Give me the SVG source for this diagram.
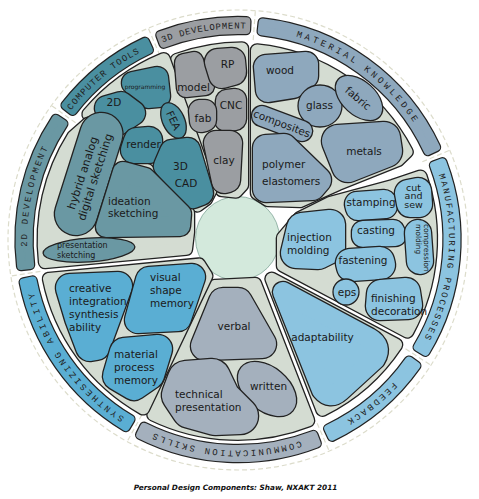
<svg xmlns="http://www.w3.org/2000/svg" xmlns:xlink="http://www.w3.org/1999/xlink" width="479" height="499" viewBox="0 0 479 499">
<style>
.o{fill:#222;stroke:#222;stroke-linejoin:round;stroke-linecap:round}
.c0{fill:#d4dcd2;stroke:#d4dcd2;stroke-linejoin:round;stroke-linecap:round}
.f3{fill:#9b9ea2;stroke:#9b9ea2;stroke-linejoin:round;stroke-linecap:round}
.fm{fill:#8ea8bd;stroke:#8ea8bd;stroke-linejoin:round;stroke-linecap:round}
.fp{fill:#8cc4e0;stroke:#8cc4e0;stroke-linejoin:round;stroke-linecap:round}
.fc{fill:#a4b0bd;stroke:#a4b0bd;stroke-linejoin:round;stroke-linecap:round}
.fs{fill:#5aaed3;stroke:#5aaed3;stroke-linejoin:round;stroke-linecap:round}
.f2{fill:#6a98a3;stroke:#6a98a3;stroke-linejoin:round;stroke-linecap:round}
.ft{fill:#4a8fa0;stroke:#4a8fa0;stroke-linejoin:round;stroke-linecap:round}
.e{stroke:#222;stroke-width:1.3}
.t{font-family:"DejaVu Sans",Verdana,sans-serif;font-size:10.5px;fill:#1a1a1a}
.s6{font-size:6px}
.s75{font-size:7.5px}
.s8{font-size:8px}
.s9{font-size:9.5px}
.s11{font-size:11px}
.m{text-anchor:middle}
.bt{font-family:"Liberation Mono","Courier New",monospace;font-size:9px;fill:#222;text-anchor:middle}
.dash{fill:none;stroke:#dcdccb;stroke-width:1.2;stroke-dasharray:5 3}
</style>
<defs>
<path id="tp" d="M238,28.5 A211,211 0 1 1 238,450.5 A211,211 0 1 1 238,28.5 A211,211 0 1 1 238,450.5 A211,211 0 1 1 238,28.5"/>
<path id="b3d" d="M160.4,35.2 A218.5,218.5 0 0 1 246.4,21.2 L246,30.1 A209.5,209.5 0 0 0 163.6,43.7 Z"/>
<path id="bmat" d="M262.7,22.4 A218.5,218.5 0 0 1 436,147.2 L427.9,151 A209.5,209.5 0 0 0 261.7,31.3 Z"/>
<path id="bman" d="M442.4,162.3 A218.5,218.5 0 0 1 425.5,351.7 L417.7,347.1 A209.5,209.5 0 0 0 434,165.4 Z"/>
<path id="bfb" d="M416.3,365.8 A218.5,218.5 0 0 1 332.1,436.7 L328.2,428.6 A209.5,209.5 0 0 0 409,360.6 Z"/>
<path id="bcom" d="M316.7,443.4 A218.5,218.5 0 0 1 140.2,434.9 L144.2,426.8 A209.5,209.5 0 0 0 313.4,435 Z"/>
<path id="bsyn" d="M125.8,427 A218.5,218.5 0 0 1 23.7,282.3 L32.6,280.5 A209.5,209.5 0 0 0 130.4,419.3 Z"/>
<path id="b2d" d="M21.1,266.1 A218.5,218.5 0 0 1 55.8,118.9 L63.3,123.9 A209.5,209.5 0 0 0 30.1,265 Z"/>
<path id="bct" d="M65.6,105.3 A218.5,218.5 0 0 1 145,41.8 L148.8,49.9 A209.5,209.5 0 0 0 72.7,110.8 Z"/>
<path id="k3d" d="M177,60 A190.5,190.5 0 0 1 242,48.5 L242,185 L236,191.5 L222,190 Z"/>
<path id="kmat" d="M257,50.5 A190,190 0 0 1 406.5,151.8 L398,160 L338,184 L300,201 L268,200 L257,193 Z"/>
<path id="kman" d="M283,238 L300,218 L330,203 L393,186 L420.5,176.7 A193,193 0 0 1 407.3,331.4 L283,265.5 Z"/>
<path id="kfb" d="M271.6,278.8 L396.1,344.7 A190,190 0 0 1 322.4,409.7 Z"/>
<path id="kcom" d="M215,286 L255,284 L308,420.5 A194,194 0 0 1 153.4,414.5 Z"/>
<path id="ksyn" d="M49,278.9 L199,264.6 L206.2,276 L143.1,408.3 A193,193 0 0 1 49,278.9 Z"/>
<path id="k2d" d="M45,262 A194,194 0 0 1 73.5,136.7 L88,124 L104,119 L119,128 L121,150 L124,164 L147,170 L179,202 L188,213 L188,232 L186,248.8 Z"/>
<path id="kct" d="M88.6,114.2 A195,195 0 0 1 163.7,59.2 L210.6,190 L206,199 L197.3,205.4 L188,194 L152.5,159 L127,152.4 L124,134 L110,118 Z"/>
<path id="p-rp" d="M218,62 L232,61 L233,72 L222,75 Z"/>
<path id="p-model" d="M184,63 L194,61 L200,79 L205,86 L186,88 Z"/>
<path id="p-cnc" d="M227,101 L235,100 L235,119 L226,120 Z"/>
<path id="p-fab" d="M200,111 L205,111 L205,120 L201,121 Z"/>
<path id="p-clay" d="M216,143 L230,143 L228,180 L224,181 Z"/>
<path id="p-wood" d="M266,67 L306,64 L306,76 L293,86 L268,90 Z"/>
<path id="p-compo" d="M262,116 L302,131"/>
<path id="p-metals" d="M338,141 L384,138 L386,151 L348,166 Z"/>
<path id="p-poly" d="M266,148 L284,147 L318,180 L312,187 L266,189 Z"/>
<path id="p-stamp" d="M357,204 L384,202 L385,206 L358,208 Z"/>
<path id="p-cut" d="M408,193 L418,191 L419,204 L410,204 Z"/>
<path id="p-cast" d="M363,232 L393,231 L395,235 L363,236 Z"/>
<path id="p-cmp" d="M418,233 L420,261"/>
<path id="p-inj" d="M302,228 L330,225 L330,248 L318,254 L296,253 Z"/>
<path id="p-fast" d="M350,263 L380,261 L381,265 L351,267 Z"/>
<path id="p-fin" d="M381,294 L406,292 L408,305 L380,306 Z"/>
<path id="p-adapt" d="M283,292 L369,338 Q383,346 375,359 L340,391 Q330,400 322,390 Z"/>
<path id="p-verbal" d="M223,302 L238,302 L262,344 L205,346 Z"/>
<path id="p-tech" d="M186,379 L212,377 L222,398 L240,416 L215,417 L190,410 L180,395 Z"/>
<path id="p-creat" d="M70,288 L118,286 L96,346 L90,347 L79,318 Z"/>
<path id="p-visual" d="M149,280 L192,277 L178,318 L138,320 Z"/>
<path id="p-matmem" d="M124,352 L158,349 L150,375 L134,386 L117,376 Z"/>
<path id="p-hybrid" d="M76,214 L101.4,134"/>
<path id="p-idea" d="M123,172 L145,178 L181,214 L180,226 L106,227 Z"/>
<path id="p-prog" d="M133,83 L157,78 L159,96 L148,97 Z"/>
<path id="p-2d" d="M107,108 L121,104 L133,113 L118,123 Z"/>
<path id="p-render" d="M137,141 L149,140 L149,150 L134,150 Z"/>
<path id="p-cad" d="M172,152 L188,150 L201,193 L193,196 L166,166 Z"/>
</defs>

<g id="backdrop">
<circle class="dash" cx="238" cy="240" r="230"/>
<circle cx="237.5" cy="238.5" r="42" fill="#d3e9dc" stroke="#7fa597" stroke-width="0.8"/>
</g>

<g id="connectors">
<line class="dash" x1="159.9" y1="55.4" x2="148.1" y2="27.8"/>
<line class="dash" x1="253.2" y1="40.1" x2="255.4" y2="10.2"/>
<line class="dash" x1="422.3" y1="161.8" x2="449.9" y2="150.2"/>
<line class="dash" x1="405.5" y1="348.7" x2="430.7" y2="365.1"/>
<line class="dash" x1="317.1" y1="423.2" x2="329" y2="450.7"/>
<line class="dash" x1="141.8" y1="414.9" x2="127.4" y2="441.2"/>
<line class="dash" x1="40.5" y1="271.3" x2="10.9" y2="276.1"/>
<line class="dash" x1="75.6" y1="122.8" x2="51.2" y2="105.3"/>
</g>

<g id="bands">
<g id="band-3d"><use href="#b3d" class="o" stroke-width="10.4"/><use href="#b3d" class="f3" stroke-width="8"/><text class="bt" letter-spacing="0.7"><textPath href="#tp" startOffset="1290.8">3D DEVELOPMENT</textPath></text></g>
<g id="band-material"><use href="#bmat" class="o" stroke-width="10.4"/><use href="#bmat" class="fm" stroke-width="8"/><text class="bt" letter-spacing="3"><textPath href="#tp" startOffset="134.4">MATERIAL KNOWLEDGE</textPath></text></g>
<g id="band-manufacturing"><use href="#bman" class="o" stroke-width="10.4"/><use href="#bman" class="fp" stroke-width="8"/><text class="bt" letter-spacing="2"><textPath href="#tp" startOffset="350.6">MANUFACTURING PROCESSES</textPath></text></g>
<g id="band-feedback"><use href="#bfb" class="o" stroke-width="10.4"/><use href="#bfb" class="fp" stroke-width="8"/><text class="bt" letter-spacing="2.4"><textPath href="#tp" startOffset="519.2">FEEDBACK</textPath></text></g>
<g id="band-communication"><use href="#bcom" class="o" stroke-width="10.4"/><use href="#bcom" class="fc" stroke-width="8"/><text class="bt" letter-spacing="2.2"><textPath href="#tp" startOffset="675">COMMUNICATION SKILLS</textPath></text></g>
<g id="band-synthesizing"><use href="#bsyn" class="o" stroke-width="10.4"/><use href="#bsyn" class="fs" stroke-width="8"/><text class="bt" letter-spacing="2.6"><textPath href="#tp" startOffset="862.5">SYNTHESIZING ABILITY</textPath></text></g>
<g id="band-2d"><use href="#b2d" class="o" stroke-width="10.4"/><use href="#b2d" class="f2" stroke-width="8"/><text class="bt" letter-spacing="2"><textPath href="#tp" startOffset="1038.5">2D DEVELOPMENT</textPath></text></g>
<g id="band-computer"><use href="#bct" class="o" stroke-width="10.4"/><use href="#bct" class="ft" stroke-width="8"/><text class="bt" letter-spacing="1.1"><textPath href="#tp" startOffset="1178.4">COMPUTER TOOLS</textPath></text></g>
</g>

<g id="containers">
<g id="sector-3d"><use href="#k3d" class="o" stroke-width="14.6"/><use href="#k3d" class="c0" stroke-width="12"/></g>
<g id="sector-material"><use href="#kmat" class="o" stroke-width="14.6"/><use href="#kmat" class="c0" stroke-width="12"/></g>
<g id="sector-manufacturing"><use href="#kman" class="o" stroke-width="14.6"/><use href="#kman" class="c0" stroke-width="12"/></g>
<g id="sector-feedback"><use href="#kfb" class="o" stroke-width="14.6"/><use href="#kfb" class="c0" stroke-width="12"/></g>
<g id="sector-communication"><use href="#kcom" class="o" stroke-width="14.6"/><use href="#kcom" class="c0" stroke-width="12"/></g>
<g id="sector-synthesizing"><use href="#ksyn" class="o" stroke-width="14.6"/><use href="#ksyn" class="c0" stroke-width="12"/></g>
<g id="sector-computer"><use href="#kct" class="o" stroke-width="14.6"/><use href="#kct" class="c0" stroke-width="12"/></g>
<g id="sector-2d"><use href="#k2d" class="o" stroke-width="14.6"/><use href="#k2d" class="c0" stroke-width="12"/></g>
</g>

<g id="nodes-3d">
<g id="model"><use href="#p-model" class="o" stroke-width="20.6"/><use href="#p-model" class="f3" stroke-width="18"/><text class="t m" x="193.5" y="91">model</text></g>
<g id="rp"><use href="#p-rp" class="o" stroke-width="28.6"/><use href="#p-rp" class="f3" stroke-width="26"/><text class="t m" x="227.5" y="68">RP</text></g>
<g id="cnc"><use href="#p-cnc" class="o" stroke-width="24.6"/><use href="#p-cnc" class="f3" stroke-width="22"/><text class="t m" x="231" y="109">CNC</text></g>
<g id="fab"><use href="#p-fab" class="o" stroke-width="24.6"/><use href="#p-fab" class="f3" stroke-width="22"/><text class="t m" x="203" y="122">fab</text></g>
<g id="clay"><use href="#p-clay" class="o" stroke-width="26.6"/><use href="#p-clay" class="f3" stroke-width="24"/><text class="t m" x="224" y="163.5">clay</text></g>
</g>

<g id="nodes-material">
<g id="wood"><use href="#p-wood" class="o" stroke-width="26.6"/><use href="#p-wood" class="fm" stroke-width="24"/><text class="t m" x="280" y="73.5">wood</text></g>
<g id="glass"><ellipse class="fm e" cx="320" cy="106" rx="22" ry="21"/><text class="t m" x="319.5" y="109">glass</text></g>
<g id="fabric"><ellipse class="fm e" cx="359" cy="98" rx="28" ry="17" transform="rotate(42 359 98)"/><text class="t m" transform="translate(358 98.5) rotate(40)" x="0" y="3.5">fabric</text></g>
<g id="composites"><use href="#p-compo" class="o" stroke-width="22.6"/><use href="#p-compo" class="fm" stroke-width="20"/><text class="t m" transform="translate(282 123.5) rotate(20.6)" x="0" y="3.8">composites</text></g>
<g id="metals"><use href="#p-metals" class="o" stroke-width="34.6"/><use href="#p-metals" class="fm" stroke-width="32"/><text class="t m" x="364" y="155">metals</text></g>
<g id="polymer"><use href="#p-poly" class="o" stroke-width="28.6"/><use href="#p-poly" class="fm" stroke-width="26"/><text class="t" x="262" y="167.5">polymer</text><text class="t" x="262" y="185">elastomers</text></g>
</g>

<g id="nodes-manufacturing">
<g id="stamping"><use href="#p-stamp" class="o" stroke-width="26.6"/><use href="#p-stamp" class="fp" stroke-width="24"/><text class="t m" x="371" y="206">stamping</text></g>
<g id="cut-and-sew"><use href="#p-cut" class="o" stroke-width="28.6"/><use href="#p-cut" class="fp" stroke-width="26"/><text class="t s9 m" x="413.5" y="190.5">cut</text><text class="t s9 m" x="413.5" y="199">and</text><text class="t s9 m" x="413.5" y="207.5">sew</text></g>
<g id="casting"><use href="#p-cast" class="o" stroke-width="24.6"/><use href="#p-cast" class="fp" stroke-width="22"/><text class="t m" x="376" y="233.5">casting</text></g>
<g id="compression-molding"><use href="#p-cmp" class="o" stroke-width="28.6"/><use href="#p-cmp" class="fp" stroke-width="26"/><g transform="translate(421 224) rotate(90)"><text class="t s75" x="0" y="-3">compression</text><text class="t s75" x="0" y="5.5">molding</text></g></g>
<g id="injection-molding"><use href="#p-inj" class="o" stroke-width="32.6"/><use href="#p-inj" class="fp" stroke-width="30"/><text class="t" x="287" y="240.5">injection</text><text class="t" x="287" y="254">molding</text></g>
<g id="fastening"><use href="#p-fast" class="o" stroke-width="30.6"/><use href="#p-fast" class="fp" stroke-width="28"/><text class="t m" x="363" y="263.5">fastening</text></g>
<g id="eps"><circle class="fp e" cx="346" cy="292" r="13"/><text class="t m" x="347" y="295.5">eps</text></g>
<g id="finishing-decoration"><use href="#p-fin" class="o" stroke-width="30.6"/><use href="#p-fin" class="fp" stroke-width="28"/><text class="t" x="371" y="302">finishing</text><text class="t" x="371" y="315">decoration</text></g>
</g>

<g id="nodes-feedback">
<g id="adaptability"><use href="#p-adapt" class="o" stroke-width="22.6"/><use href="#p-adapt" class="fp" stroke-width="20"/><text class="t m" x="322.5" y="340.5">adaptability</text></g>
</g>

<g id="nodes-communication">
<g id="verbal"><use href="#p-verbal" class="o" stroke-width="30.6"/><use href="#p-verbal" class="fc" stroke-width="28"/><text class="t m" x="234" y="330">verbal</text></g>
<g id="written"><ellipse class="fc e" cx="267" cy="389" rx="34" ry="22" transform="rotate(40 267 389)"/><text class="t m" x="268.5" y="390">written</text></g>
<g id="technical-presentation"><use href="#p-tech" class="o" stroke-width="38.6"/><use href="#p-tech" class="fc" stroke-width="36"/><text class="t" x="175" y="397.5">technical</text><text class="t" x="175" y="410.5">presentation</text></g>
</g>

<g id="nodes-synthesizing">
<g id="creative"><use href="#p-creat" class="o" stroke-width="30.6"/><use href="#p-creat" class="fs" stroke-width="28"/><text class="t" x="69" y="292">creative</text><text class="t" x="69" y="305">integration</text><text class="t" x="69" y="318">synthesis</text><text class="t" x="69" y="331">ability</text></g>
<g id="visual-shape-memory"><use href="#p-visual" class="o" stroke-width="28.6"/><use href="#p-visual" class="fs" stroke-width="26"/><text class="t" x="150" y="281">visual</text><text class="t" x="150" y="294">shape</text><text class="t" x="150" y="307">memory</text></g>
<g id="material-process-memory"><use href="#p-matmem" class="o" stroke-width="30.6"/><use href="#p-matmem" class="fs" stroke-width="28"/><text class="t" x="114" y="358">material</text><text class="t" x="114" y="371">process</text><text class="t" x="114" y="384">memory</text></g>
</g>

<g id="nodes-computer">
<g id="programming"><use href="#p-prog" class="o" stroke-width="24.6"/><use href="#p-prog" class="ft" stroke-width="22"/><text class="t s6 m" x="145" y="89">programming</text></g>
<g id="node-2d"><use href="#p-2d" class="o" stroke-width="26.6"/><use href="#p-2d" class="ft" stroke-width="24"/><text class="t m" x="114" y="106">2D</text></g>
<g id="fea"><ellipse class="ft e" cx="173.5" cy="120.5" rx="19" ry="11" transform="rotate(65 173.5 120.5)"/><text class="t m" transform="translate(173.5 120.5) rotate(65)" x="0" y="3.8">FEA</text></g>
<g id="render"><use href="#p-render" class="o" stroke-width="28.6"/><use href="#p-render" class="ft" stroke-width="26"/><text class="t m" x="143.5" y="147.5">render</text></g>
<g id="cad"><use href="#p-cad" class="o" stroke-width="26.6"/><use href="#p-cad" class="ft" stroke-width="24"/><text class="t m" x="180.5" y="170">3D</text><text class="t m" x="186" y="187">CAD</text></g>
</g>

<g id="nodes-2d">
<g id="hybrid"><use href="#p-hybrid" class="o" stroke-width="44.6"/><use href="#p-hybrid" class="f2" stroke-width="42"/><g transform="translate(88.7 175) rotate(-72)"><text class="t s11 m" x="0" y="-2.5">hybrid analog</text><text class="t s11 m" x="0" y="10.5">digital sketching</text></g></g>
<g id="ideation"><use href="#p-idea" class="o" stroke-width="22.6"/><use href="#p-idea" class="f2" stroke-width="20"/><text class="t" x="108" y="204.5">ideation</text><text class="t" x="108" y="217">sketching</text></g>
<g id="presentation-sketching"><ellipse class="f2 e" cx="89" cy="250" rx="46" ry="12" transform="rotate(-4 89 250)"/><text class="t s8" x="57" y="247.5">presentation</text><text class="t s8" x="57" y="257.5">sketching</text></g>
</g>

<text id="caption" x="235.5" y="489.5" text-anchor="middle" font-family="DejaVu Sans, Verdana, sans-serif" font-size="7.3" font-weight="bold" font-style="italic" fill="#111">Personal Design Components: Shaw, NXAKT 2011</text>
</svg>
